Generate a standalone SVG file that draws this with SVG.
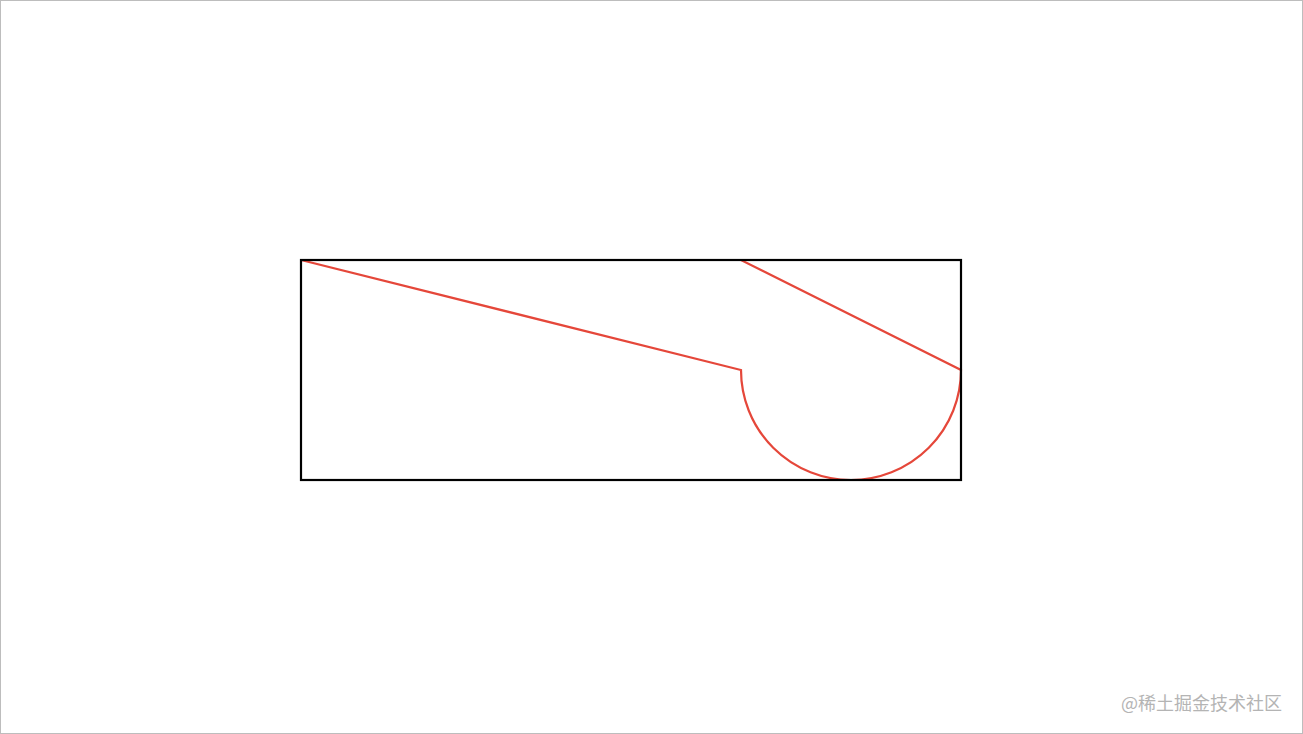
<svg xmlns="http://www.w3.org/2000/svg" width="1303" height="734" viewBox="0 0 1303 734">
<style>
.red{fill:none;stroke:#e5473a;stroke-width:2.2;stroke-linejoin:miter}
.box{fill:none;stroke:#000;stroke-width:2.2}
.wm{font-family:"Noto Sans CJK SC","Liberation Sans",sans-serif;font-size:18px;fill:#b4b4b4}
</style>
<rect x="0.5" y="0.5" width="1302" height="733" fill="#fff" stroke="#bdbdbd" stroke-width="1"/>
<g id="shape">
<path class="red" d="M301 260 L741 370 A110 110 0 0 0 961 370 L741 260 Z"/>
</g>
<g id="frame">
<rect class="box" x="301" y="260" width="660" height="220"/>
</g>
<text class="wm" x="1282" y="710" text-anchor="end">@稀土掘金技术社区</text>
</svg>
